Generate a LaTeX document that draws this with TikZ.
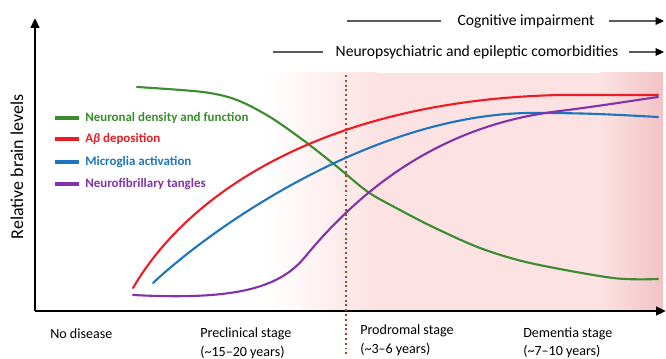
\documentclass[tikz,border=0pt]{standalone}
\usepackage{fontspec}
\setmainfont{Carlito}
\usetikzlibrary{arrows.meta}

\definecolor{neurongreen}{RGB}{58,140,46}
\definecolor{abred}{RGB}{236,28,36}
\definecolor{microblue}{RGB}{28,117,190}
\definecolor{tanglepurple}{RGB}{130,50,170}
\definecolor{shadepink}{RGB}{252,226,226}
\definecolor{shadedeep}{RGB}{242,194,198}
\definecolor{dotbrown}{RGB}{168,70,32}
\definecolor{notegray}{RGB}{90,90,90}

\begin{document}
\begin{tikzpicture}[x=0.025cm, y=-0.025cm,
        axis/.style={line width=2pt, -{Triangle[length=7pt,width=6pt]}},
        curve/.style={line width=1.5pt, line cap=round},
        legline/.style={line width=3pt},
        legtext/.style={anchor=west, inner sep=0pt, font=\fontsize{9.2}{11}\selectfont\bfseries},
        stagetext/.style={anchor=north west, inner sep=0pt, align=left, font=\fontsize{10}{13.5}\selectfont},
        toptext/.style={inner sep=0pt, font=\fontsize{11.1}{12}\selectfont},
        topline/.style={draw=notegray, line width=0.8pt},
        toparrow/.style={draw=notegray, line width=0.8pt, -{Triangle[length=6pt,width=5.5pt,color=black]}}]
        \useasboundingbox (0, 0) rectangle (666, 359);

        % background stages
        \shade[left color=white, right color=shadepink] (267, 73) rectangle (377, 311);
        \fill[shadepink] (377, 73) rectangle (600, 311);
        \shade[left color=shadepink, right color=shadedeep] (600, 73) rectangle (663, 311);

        % axes
        \coordinate (origin) at (35, 311);
        \coordinate (ytop) at (35, 18);
        \coordinate (xend) at (666, 311);
        \draw[axis] (origin) -- (ytop);
        \draw[axis] (origin) -- (xend);
        \node[rotate=90, inner sep=0pt, font=\fontsize{12.8}{14}\selectfont] (ylab) at (17, 167) { Relative brain levels };

        % onset of prodromal stage
        \coordinate (prodtop) at (346, 75);
        \coordinate (prodbot) at (346, 354);
        \draw[dotbrown, line width=1.4pt, dotted] (prodtop) -- (prodbot);

        % curves
        \draw[curve, neurongreen] plot[smooth] coordinates {(137,87) (203,92) (237,100) (270,117) (303,140) (335,165) (368,192) (400,210) (433,227) (480,248) (530,263) (613,278) (658,279)};
        \draw[curve, abred] (133,288) .. controls (190,190) and (330,100) .. (560,95) -- (658,95);
        \draw[curve, microblue] (153,283) .. controls (215,225) and (380,110) .. (540,113) .. controls (590,113) and (620,115) .. (658,117);
        \draw[curve, tanglepurple] (133,295) .. controls (230,300) and (278,290) .. (305,257) .. controls (360,190) and (440,125) .. (560,111) .. controls (600,106) and (630,101) .. (658,97);

        % legend
        \draw[legline, neurongreen] (55, 118) -- (79, 118);
        \draw[legline, abred] (55, 139) -- (79, 139);
        \draw[legline, microblue] (55, 162) -- (79, 162);
        \draw[legline, tanglepurple] (55, 184) -- (79, 184);
        \node[legtext, text=neurongreen] (leggreen) at (85, 118) { Neuronal density and function };
        \node[legtext, text=abred] (legred) at (85, 139) { A\textit{β} deposition };
        \node[legtext, text=microblue] (legblue) at (85, 162) { Microglia activation };
        \node[legtext, text=tanglepurple] (legpurple) at (85, 184) { Neurofibrillary tangles };

        % clinical features
        \node[toptext] (cognitive) at (526, 21) { Cognitive impairment };
        \coordinate (cogstart) at (347, 21);
        \coordinate (cogend) at (664, 21);
        \draw[topline] (cogstart) -- ([xshift=-4mm]cognitive.west);
        \draw[toparrow] ([xshift=3.5mm]cognitive.east) -- (cogend);

        \node[toptext] (comorb) at (477, 52) { Neuropsychiatric and epileptic comorbidities };
        \coordinate (comstart) at (273, 52);
        \coordinate (comend) at (664, 52);
        \draw[topline] (comstart) -- ([xshift=-3mm]comorb.west);
        \draw[toparrow] ([xshift=2.5mm]comorb.east) -- (comend);

        % stages
        \node[stagetext] (nodisease) at (50, 328) { No disease };
        \node[stagetext] (preclin) at (200, 327) { Preclinical stage\\(\textasciitilde15--20 years) };
        \node[stagetext] (prodromal) at (360, 324) { Prodromal stage\\(\textasciitilde3--6 years) };
        \node[stagetext] (dementia) at (523, 327) { Dementia stage\\(\textasciitilde7--10 years) };

    \end{tikzpicture}
\end{document}
